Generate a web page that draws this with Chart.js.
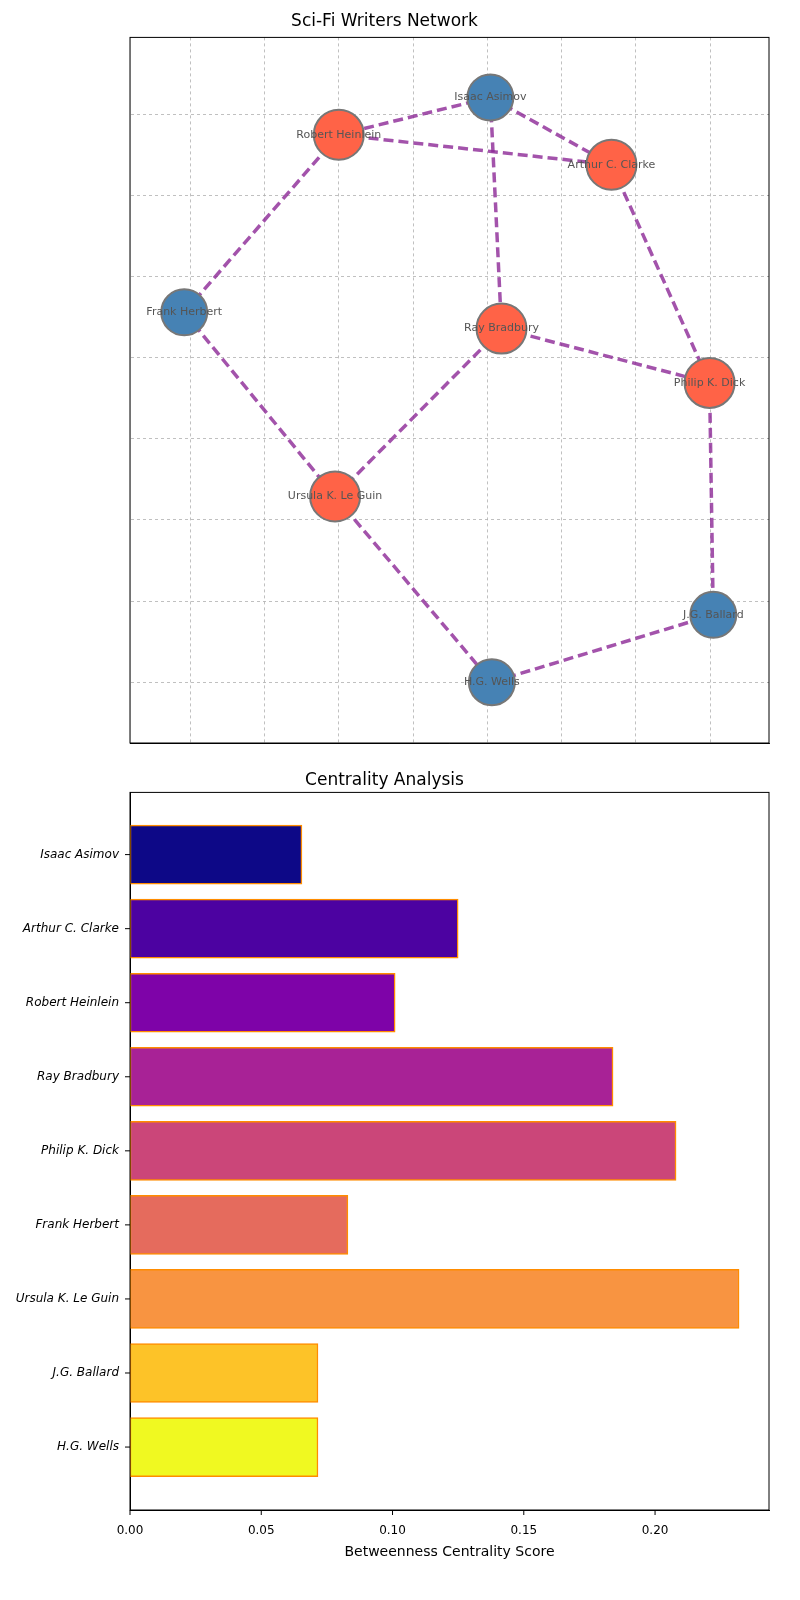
<!DOCTYPE html>
<html lang="en">
<head>
<meta charset="UTF-8" />
<title>Sci-Fi Writers Network</title>
<script src="https://cdn.jsdelivr.net/npm/chart.js"></script>
<style>
  html, body { margin: 0; background: #fff; overflow: hidden; width: 800px; height: 1600px; }
  #net { position: absolute; left: 0; top: 0; }
  #bars { position: absolute; left: 0; top: 770px; }
</style>
</head>
<body>
<canvas id="net" width="800" height="770"></canvas>
<canvas id="bars" width="800" height="830"></canvas>
<script>
// network nodes
var writers = ['Isaac Asimov', 'Robert Heinlein', 'Arthur C. Clarke', 'Frank Herbert', 'Ray Bradbury',
               'Philip K. Dick', 'Ursula K. Le Guin', 'J.G. Ballard', 'H.G. Wells'];
var nodeX = [4.04, 2.0, 5.67, -0.08, 4.19, 6.99, 1.95, 7.04, 4.06];
var nodeY = [7.21, 6.75, 6.38, 4.56, 4.36, 3.69, 2.29, 0.83, 0.0];
var nodeGroup = ['blue', 'red', 'red', 'blue', 'red', 'red', 'red', 'blue', 'blue'];
var edges = [[0,1],[0,2],[0,4],[1,2],[1,3],[2,5],[3,6],[4,6],[4,5],[5,7],[6,8],[8,7]];

// centrality
var barNames = ['Isaac Asimov', 'Arthur C. Clarke', 'Robert Heinlein', 'Ray Bradbury', 'Philip K. Dick',
                'Frank Herbert', 'Ursula K. Le Guin', 'J.G. Ballard', 'H.G. Wells'];
var centrality = [0.0655, 0.125, 0.101, 0.184, 0.208, 0.083, 0.232, 0.0716, 0.0716];
var barColors = ['#0d0887', '#4c02a1', '#7e03a8', '#a82296', '#cb4679', '#e56b5d', '#f89441', '#fdc328', '#f0f921'];

Chart.defaults.font.family = 'DejaVu Sans';
Chart.defaults.color = '#000';

var groupColor = { blue: '#4682b4', red: '#ff6347' };

var netSets = edges.map(function (e) {
  return {
    type: 'line',
    data: [{ x: nodeX[e[0]], y: nodeY[e[0]] }, { x: nodeX[e[1]], y: nodeY[e[1]] }],
    borderColor: 'rgba(140, 40, 150, 0.8)',
    borderWidth: 3.5,
    borderDash: [10, 5],
    pointRadius: 0,
    showLine: true,
    order: 2
  };
});
netSets.push({
  type: 'scatter',
  data: writers.map(function (w, i) { return { x: nodeX[i], y: nodeY[i] }; }),
  backgroundColor: nodeGroup.map(function (g) { return groupColor[g]; }),
  borderColor: '#777',
  borderWidth: 2,
  pointRadius: nodeGroup.map(function (g) { return g === 'red' ? 25 : 23; }),
  order: 1
});

var labelPlugin = {
  id: 'nodeLabels',
  afterDatasetsDraw: function (chart) {
    var ctx = chart.ctx, xs = chart.scales.x, ys = chart.scales.y;
    ctx.save();
    ctx.font = '11px DejaVu Sans';
    ctx.fillStyle = '#555';
    ctx.textAlign = 'center';
    ctx.textBaseline = 'middle';
    writers.forEach(function (w, i) {
      ctx.fillText(w, xs.getPixelForValue(nodeX[i]), ys.getPixelForValue(nodeY[i]));
    });
    ctx.restore();
  }
};

var dashGrid = { color: '#b0b0b0', lineWidth: 0.8, tickLength: 0 };

var net = new Chart(document.getElementById('net'), {
  type: 'scatter',
  data: { datasets: netSets },
  options: {
    responsive: false,
    animation: false,
    layout: { padding: { right: 31 } },
    plugins: {
      legend: { display: false },
      tooltip: { enabled: false },
      title: { display: true, text: 'Sci-Fi Writers Network', font: { size: 17, weight: 'normal' }, padding: { top: 11, bottom: 6 } }
    },
    scales: {
      x: {
        type: 'linear', min: -0.81, max: 7.79,
        afterBuildTicks: function (s) { s.ticks = [0,1,2,3,4,5,6,7].map(function (v) { return { value: v }; }); },
        ticks: { display: false },
        grid: dashGrid,
        border: { color: '#000', dash: [3, 3] },
        afterFit: function (s) { s.height = 16; }
      },
      y: {
        type: 'linear', min: -0.75, max: 7.95,
        afterBuildTicks: function (s) { s.ticks = [0,1,2,3,4,5,6,7].map(function (v) { return { value: v }; }); },
        ticks: { display: false },
        grid: dashGrid,
        border: { dash: [3, 3] },
        afterFit: function (s) { s.width = 130; }
      }
    }
  },
  plugins: [labelPlugin, {
    id: 'frame',
    beforeDatasetsDraw: function (chart) {
      var a = chart.chartArea, ctx = chart.ctx;
      ctx.save();
      ctx.strokeStyle = '#000'; ctx.lineWidth = 1;
      ctx.strokeRect(a.left, a.top, a.right - a.left, a.bottom - a.top);
      ctx.restore();
    }
  }]
});
net.options.scales.x.grid.dash = [3, 3];
net.options.scales.y.grid.dash = [3, 3];
net.update();

new Chart(document.getElementById('bars'), {
  type: 'bar',
  data: {
    datasets: [{
      data: centrality.map(function (v, i) { return { x: v, y: i }; }),
      backgroundColor: barColors,
      borderColor: '#ff8c00',
      borderWidth: 1.5,
      borderSkipped: false,
      barThickness: 59
    }]
  },
  options: {
    indexAxis: 'y',
    responsive: false,
    animation: false,
    layout: { padding: { right: 31, bottom: 35 } },
    plugins: {
      legend: { display: false },
      tooltip: { enabled: false },
      title: { display: true, text: 'Centrality Analysis', font: { size: 17, weight: 'normal' }, padding: { top: 0, bottom: 2 } }
    },
    scales: {
      x: {
        type: 'linear', min: 0, max: 0.2434,
        afterBuildTicks: function (s) { s.ticks = [0, 0.05, 0.1, 0.15, 0.2].map(function (v) { return { value: v }; }); },
        ticks: { font: { size: 12 }, padding: 6, callback: function (v) { return v.toFixed(2); } },
        grid: { display: false },
        border: { color: '#000' },
        title: { display: true, text: 'Betweenness Centrality Score', font: { size: 14 }, padding: { top: 4 } },
        afterFit: function (s) { s.height = 55; }
      },
      y: {
        type: 'linear', min: -0.84, max: 8.85, reverse: true, offset: false,
        afterBuildTicks: function (s) { s.ticks = barNames.map(function (n, i) { return { value: i }; }); },
        ticks: { font: { size: 12, style: 'italic' }, callback: function (v) { return barNames[v]; } },
        grid: { display: false },
        border: { color: '#000' },
        afterFit: function (s) { s.width = 130; }
      }
    }
  },
  plugins: [{
    id: 'frame2',
    afterDraw: function (chart) {
      var a = chart.chartArea, ctx = chart.ctx;
      ctx.save();
      ctx.strokeStyle = '#000'; ctx.lineWidth = 1;
      ctx.strokeRect(a.left, a.top, a.right - a.left, a.bottom - a.top);
      ctx.beginPath();
      chart.scales.x.ticks.forEach(function (t) {
        var px = chart.scales.x.getPixelForValue(t.value);
        ctx.moveTo(px, a.bottom); ctx.lineTo(px, a.bottom + 5);
      });
      chart.scales.y.ticks.forEach(function (t) {
        var py = chart.scales.y.getPixelForValue(t.value);
        ctx.moveTo(a.left, py); ctx.lineTo(a.left - 5, py);
      });
      ctx.stroke();
      ctx.restore();
    }
  }]
});
</script>
</body>
</html>
